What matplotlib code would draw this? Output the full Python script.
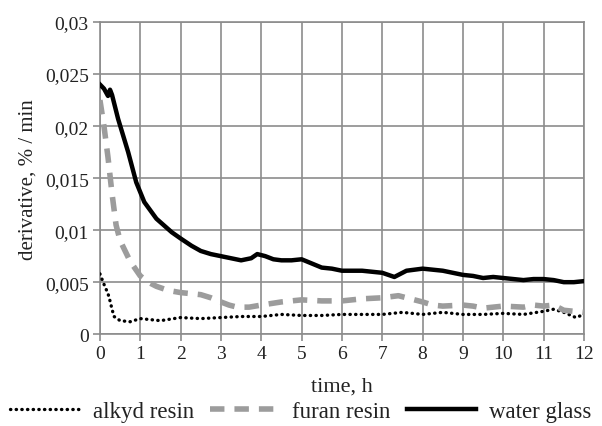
import matplotlib
matplotlib.use("Agg")
import matplotlib.pyplot as plt
from matplotlib.ticker import FixedLocator, FixedFormatter

plt.rcParams['font.family'] = ['Liberation Serif', 'DejaVu Serif']

# ---- data ----
t_water = [0, 0.1, 0.2, 0.25, 0.3, 0.45, 0.7, 0.9, 1.1, 1.4, 1.78, 2.0, 2.27, 2.5, 2.75, 3.0,
           3.25, 3.5, 3.75, 3.9, 4.1, 4.3, 4.5, 4.75, 5.0, 5.25, 5.5, 5.75, 6.0, 6.25, 6.5, 6.75, 7.0,
           7.3, 7.6, 8.0, 8.25, 8.5, 8.75, 9.0, 9.25, 9.5, 9.75, 10.0, 10.25, 10.5, 10.75, 11.0,
           11.25, 11.5, 11.75, 12.0]
water_glass = [0.0240, 0.0236, 0.0229, 0.0235, 0.0230, 0.0207, 0.0175, 0.0146, 0.0127, 0.0111,
               0.0098, 0.0092, 0.0085, 0.0080, 0.0077, 0.0075, 0.0073, 0.0071, 0.0073, 0.0077, 0.0075,
               0.0072, 0.0071, 0.0071, 0.0072, 0.0068, 0.0064, 0.0063, 0.0061, 0.0061, 0.0061, 0.0060,
               0.0059, 0.0055, 0.0061, 0.0063, 0.0062, 0.0061, 0.0059, 0.0057, 0.0056, 0.0054, 0.0055,
               0.0054, 0.0053, 0.0052, 0.0053, 0.0053, 0.0052, 0.0050, 0.0050, 0.0051]

t_furan = [0, 0.1, 0.2, 0.3, 0.4, 0.5, 0.75, 1.0, 1.2, 1.4, 1.7, 2.0, 2.5, 2.75, 3.0, 3.2, 3.4, 3.7,
           4.0, 4.5, 5.0, 5.5, 6.0, 6.5, 7.0, 7.4, 7.7, 8.0, 8.25, 8.5, 9.0, 9.25, 9.5, 10.0, 10.5,
           10.75, 11.0, 11.25, 11.5, 11.75, 12.0]
furan_resin = [0.0225, 0.0200, 0.0170, 0.0135, 0.0105, 0.0090, 0.0070, 0.0056, 0.0050, 0.0046, 0.0042,
               0.0040, 0.0038, 0.0035, 0.0031, 0.0028, 0.0026, 0.0026, 0.0028, 0.0031, 0.0033, 0.0032,
               0.0032, 0.0034, 0.0035, 0.0037, 0.0034, 0.0031, 0.0028, 0.0027, 0.0028, 0.0027, 0.0025,
               0.0027, 0.0026, 0.0028, 0.0027, 0.0028, 0.0023, 0.0022, 0.0021]

t_alkyd = [0, 0.1, 0.2, 0.25, 0.3, 0.35, 0.5, 0.75, 1.0, 1.25, 1.5, 2.0, 2.5, 3.0, 3.5, 4.0, 4.5,
           5.0, 5.5, 6.0, 6.5, 7.0, 7.5, 8.0, 8.5, 9.0, 9.5, 10.0, 10.5, 11.0, 11.25, 11.5, 11.8, 12.0]
alkyd_resin = [0.0058, 0.0048, 0.0039, 0.0032, 0.0024, 0.0017, 0.0013, 0.0012, 0.0015, 0.0014, 0.0013,
               0.0016, 0.0015, 0.0016, 0.0017, 0.0017, 0.0019, 0.0018, 0.0018, 0.0019, 0.0019, 0.0019,
               0.0021, 0.0019, 0.0021, 0.0019, 0.0019, 0.0020, 0.0019, 0.0022, 0.0024, 0.0021, 0.0016,
               0.0019]

x_ticks = list(range(0, 13))
x_tick_labels = [str(v) for v in x_ticks]
y_ticks = [0, 0.005, 0.01, 0.015, 0.02, 0.025, 0.03]
y_tick_labels = ["0", "0,005", "0,01", "0,015", "0,02", "0,025", "0,03"]

# ---- figure ----
fig = plt.figure(figsize=(6.02, 4.27), dpi=100)
ax = fig.add_axes([0.166, 0.215, 0.804, 0.731])

grid_c = '#8c8c8c'
ax.plot(t_alkyd, alkyd_resin, color='black', lw=2.4, linestyle=(0, (0.1, 1.6)),
        dash_capstyle='round', label='alkyd resin', zorder=3)
ax.plot(t_furan, furan_resin, color='#9c9c9c', lw=4.0, linestyle=(0, (2.6, 1.8)),
        label='furan resin', zorder=3)
ax.plot(t_water, water_glass, color='black', lw=3.2, label='water glass', zorder=4)

ax.set_xlim(0, 12)
ax.set_ylim(0, 0.03)
ax.xaxis.set_major_locator(FixedLocator(x_ticks))
ax.xaxis.set_major_formatter(FixedFormatter(x_tick_labels))
ax.yaxis.set_major_locator(FixedLocator(y_ticks))
ax.yaxis.set_major_formatter(FixedFormatter(y_tick_labels))
ax.grid(True, color=grid_c, lw=1.2)
ax.set_axisbelow(True)
for s in ax.spines.values():
    s.set_color(grid_c)
    s.set_linewidth(1.2)
ax.tick_params(axis='both', colors=grid_c, labelcolor='#222222', labelsize=14,
               length=5, width=1.2, direction='out', pad=3)

ax.set_xlabel('time, h', fontsize=16, color='#222222', labelpad=10)
ax.set_ylabel('derivative, % / min', fontsize=15, color='#222222', labelpad=5)

fig.legend(loc='lower center', bbox_to_anchor=(0.5, -0.04), ncol=3, frameon=False,
           fontsize=16.5, handlelength=3.0, handletextpad=0.6, columnspacing=0.7,
           labelcolor='#222222')

fig.savefig('out.png', dpi=100)
